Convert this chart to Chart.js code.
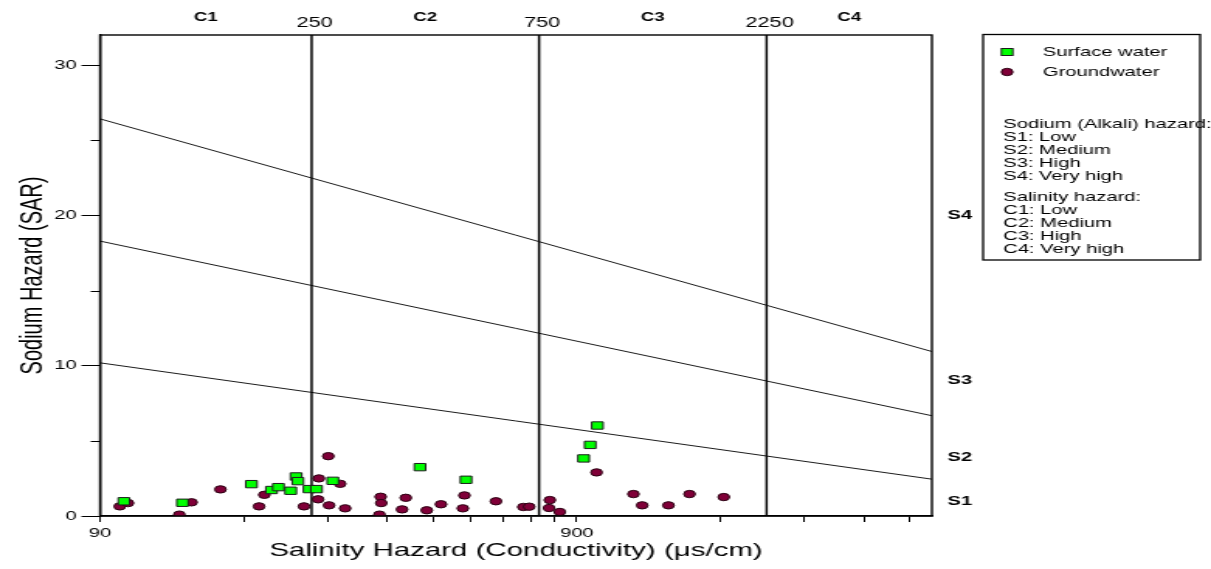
<!DOCTYPE html>
<html lang="en">
<head>
<meta charset="UTF-8">
<title>USSL diagram</title>
<script src="https://cdn.jsdelivr.net/npm/chart.js"></script>
<style>
  html, body { margin: 0; padding: 0; background: #fff; }
</style>
</head>
<body>
<!-- chart is drawn narrow and stretched sideways, like the source figure -->
<canvas id="ussl" width="781" height="569" style="width:1211px;height:569px;display:block"></canvas>
<script>
// ---- data ----
const surfaceEC  = [101, 134, 187, 206, 213, 226, 232, 234, 247, 256, 277, 422, 527, 930, 960, 994];
const surfaceSAR = [0.98, 0.88, 2.12, 1.73, 1.92, 1.68, 2.63, 2.32, 1.79, 1.79, 2.34, 3.25, 2.41, 3.83, 4.73, 6.02];

const groundEC  = [99, 103, 132, 140, 161, 194, 199, 241, 259, 258, 271, 287, 272, 294, 349, 350, 347, 394,
                   387, 436, 467, 523, 519, 609, 695, 715, 790, 787, 829, 990, 1183, 1234, 1401, 1551, 1830];
const groundSAR = [0.64, 0.86, 0.09, 0.91, 1.77, 0.64, 1.41, 0.64, 2.50, 1.11, 3.98, 2.14, 0.71, 0.51, 1.28, 0.86, 0.09, 1.21,
                   0.44, 0.38, 0.78, 1.37, 0.51, 0.98, 0.60, 0.62, 1.06, 0.53, 0.27, 2.90, 1.46, 0.71, 0.71, 1.46, 1.26];

// sodium hazard boundaries, SAR at the two ends of the EC range
const lineEC  = [90, 5000];
const s1s2SAR = [10.19, 2.45];
const s2s3SAR = [18.29, 6.67];
const s3s4SAR = [26.42, 10.94];

// salinity class limits
const cBounds = [250, 750, 2250];
const cLabels = ['C1', 'C2', 'C3', 'C4'];
const sLabels = ['S1', 'S2', 'S3', 'S4'];
const sLabelAt = [1, 3.9, 9, 20];

const xTickValues = [90, 180, 270, 360, 450, 540, 630, 720, 810, 900, 1800, 2700, 3600, 4500];
const xLabelValues = [90, 900];
const yTickValues = [0, 5, 10, 15, 20, 25, 30];

const sodiumNotes = ['Sodium (Alkali) hazard:', 'S1: Low', 'S2: Medium', 'S3: High', 'S4: Very high'];
const salinityNotes = ['Salinity hazard:', 'C1: Low', 'C2: Medium', 'C3: High', 'C4: Very high'];

const FONT = '"Liberation Sans", Arial, sans-serif';
const GREEN = '#00ff00', MAROON = '#800038';

function pts(xs, ys) { return xs.map((v, i) => ({x: v, y: ys[i]})); }
function boundary(sar) {
  return { type: 'line', data: pts(lineEC, sar), showLine: true, borderColor: '#000',
           borderWidth: 0.9, pointRadius: 0, fill: false };
}
function vline(v) {
  return { type: 'line', data: [{x: v, y: 0}, {x: v, y: 32}], showLine: true, borderColor: '#000',
           borderWidth: 1.5, pointRadius: 0, fill: false };
}

// frame, minor ticks, class labels and the legend box
const extras = {
  id: 'extras',
  afterDraw(chart) {
    const {ctx, chartArea: a, scales: {x, y}} = chart;
    ctx.save();
    ctx.strokeStyle = '#000';
    ctx.lineWidth = 1.4;
    ctx.strokeRect(a.left, a.top, a.right - a.left, a.bottom - a.top);

    // short minor ticks on the SAR axis
    ctx.lineWidth = 1;
    yTickValues.filter(v => v % 10 !== 0).forEach(v => {
      const py = Math.round(y.getPixelForValue(v)) + 0.5;
      ctx.beginPath(); ctx.moveTo(a.left - 6, py); ctx.lineTo(a.left, py); ctx.stroke();
    });

    ctx.fillStyle = '#000';
    ctx.textAlign = 'center';
    ctx.textBaseline = 'middle';
    ctx.font = '14px ' + FONT;
    cBounds.forEach(v => ctx.fillText(String(v), x.getPixelForValue(v) + 2, 23));
    ctx.font = 'bold 12px ' + FONT;
    const edges = [x.min, ...cBounds, x.max];
    cLabels.forEach((t, i) => ctx.fillText(t, x.getPixelForValue(Math.sqrt(edges[i] * edges[i + 1])), 18));

    ctx.textAlign = 'left';
    ctx.font = 'bold 13px ' + FONT;
    sLabels.forEach((t, i) => ctx.fillText(t, a.right + 10, y.getPixelForValue(sLabelAt[i])));

    // legend
    const L = a.right + 33, T = a.top - 0.5;
    ctx.lineWidth = 1.3;
    ctx.strokeRect(L, T, 140, 225.5);
    const mx = L + 15.5;
    ctx.lineWidth = 1;
    ctx.fillStyle = GREEN; ctx.strokeStyle = '#1c1c1c';
    ctx.fillRect(mx - 3.7, 52 - 3.5, 7.4, 7); ctx.strokeRect(mx - 3.7, 52 - 3.5, 7.4, 7);
    ctx.fillStyle = MAROON; ctx.strokeStyle = '#2a0012';
    ctx.beginPath(); ctx.arc(mx, 72, 3.7, 0, Math.PI * 2); ctx.fill(); ctx.stroke();

    ctx.fillStyle = '#000';
    ctx.font = '13px ' + FONT;
    chart.data.datasets.slice(0, 2).forEach((d, i) => ctx.fillText(d.label, L + 38.6, 52 + i * 20));
    sodiumNotes.forEach((t, i) => ctx.fillText(t, L + 13, 124 + i * 13.2));
    salinityNotes.forEach((t, i) => ctx.fillText(t, L + 13, 197 + i * 13));
    ctx.restore();
  }
};

new Chart(document.getElementById('ussl'), {
  type: 'scatter',
  data: {
    datasets: [
      { label: 'Surface water', data: pts(surfaceEC, surfaceSAR), pointStyle: 'rect', pointRadius: 5.2,
        backgroundColor: GREEN, borderColor: '#1c1c1c', borderWidth: 1 },
      { label: 'Groundwater', data: pts(groundEC, groundSAR), pointStyle: 'circle', pointRadius: 3.7,
        backgroundColor: MAROON, borderColor: '#2a0012', borderWidth: 1 },
      boundary(s1s2SAR), boundary(s2s3SAR), boundary(s3s4SAR),
      ...cBounds.map(vline)
    ]
  },
  options: {
    responsive: false,
    devicePixelRatio: 1,
    animation: false,
    layout: { padding: { top: 35, right: 180, left: 0, bottom: 0 } },
    plugins: { legend: { display: false }, tooltip: { enabled: false } },
    scales: {
      x: {
        type: 'logarithmic', min: 90, max: 5000,
        afterBuildTicks: s => { s.ticks = xTickValues.map(v => ({value: v})); },
        afterFit: s => { s.height = 53; },
        ticks: { autoSkip: false, maxRotation: 0, padding: 4, color: '#000',
                 font: { family: FONT, size: 13 },
                 callback: v => xLabelValues.includes(v) ? String(v) : '' },
        grid: { drawOnChartArea: false, color: '#000', tickLength: 6 },
        border: { color: '#000', width: 1.5 },
        title: { display: true, text: 'Salinity Hazard (Conductivity) (\u03bcs/cm)', color: '#000',
                 font: { family: FONT, size: 19 }, padding: { top: 0, bottom: 7 } }
      },
      y: {
        min: 0, max: 32,
        afterBuildTicks: s => { s.ticks = yTickValues.map(v => ({value: v})); },
        afterFit: s => { s.width = 64.5; },
        ticks: { padding: 3, color: '#000', font: { family: FONT, size: 13 },
                 callback: v => v % 10 === 0 ? String(v) : '' },
        grid: { drawOnChartArea: false, color: '#000', tickLength: 12,
                tickColor: c => (c.tick && c.tick.value % 10 === 0) ? '#000' : 'rgba(0,0,0,0)' },
        border: { color: '#000', width: 1.4 },
        title: { display: true, text: 'Sodium Hazard (SAR)', color: '#000',
                 font: { family: FONT, size: 20 }, padding: { top: 9, bottom: 0 } }
      }
    }
  },
  plugins: [extras]
});
</script>
</body>
</html>
